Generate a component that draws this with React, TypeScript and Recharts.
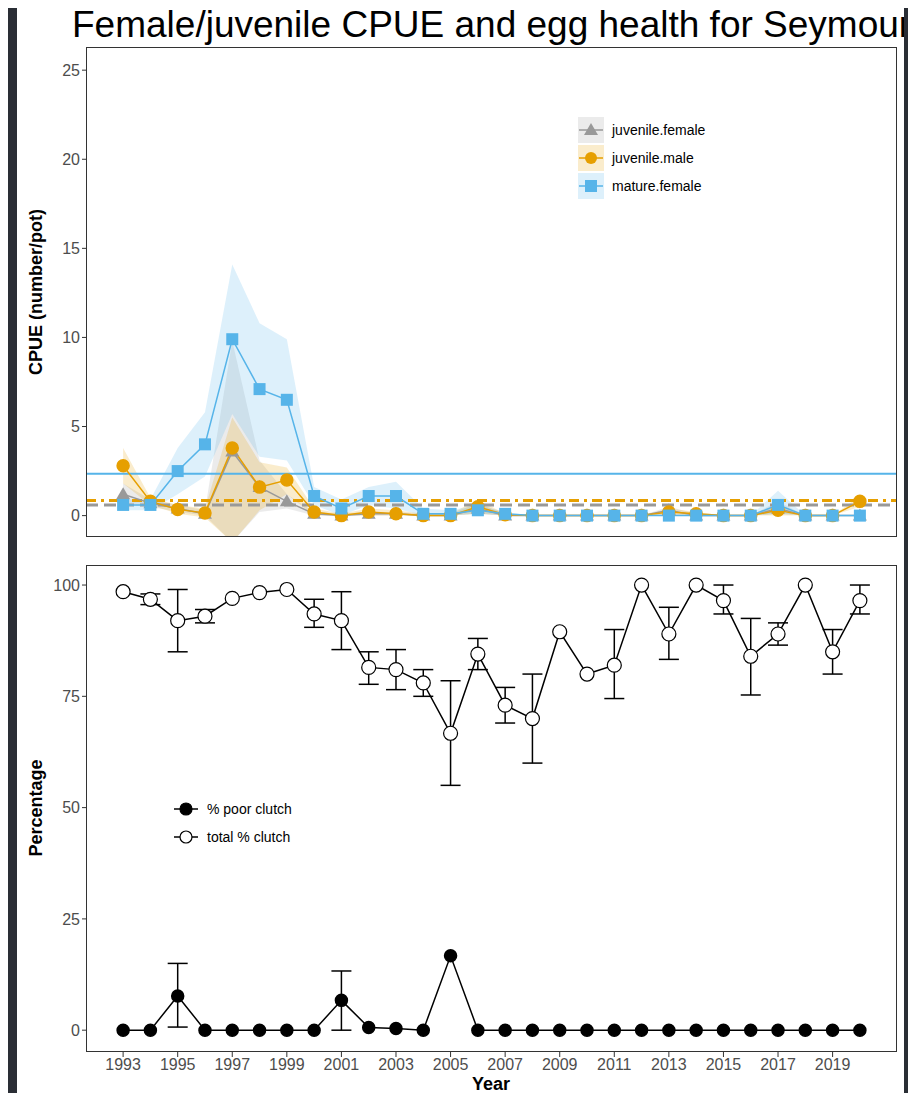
import React from "react";
import { ComposedChart, Line, Area, XAxis, YAxis, ReferenceLine, ErrorBar } from "recharts";

const years = [1993, 1994, 1995, 1996, 1997, 1998, 1999, 2000, 2001, 2002, 2003, 2004, 2005, 2006, 2007, 2008, 2009, 2010, 2011, 2012, 2013, 2014, 2015, 2016, 2017, 2018, 2019, 2020];

const matureFemale = [0.6, 0.6, 2.5, 4.0, 9.9, 7.1, 6.5, 1.1, 0.4, 1.1, 1.1, 0.1, 0.1, 0.3, 0.1, 0, 0, 0, 0, 0, 0, 0, 0, 0, 0.6, 0, 0, 0];
const matureFemaleLo = [0.3, 0.3, 1.2, 2.2, 5.7, 3.3, 3.1, 0.6, 0, 0.6, 0.4, 0, 0, 0.1, 0, 0, 0, 0, 0, 0, 0, 0, 0, 0, 0.1, 0, 0, 0];
const matureFemaleHi = [0.9, 0.9, 3.8, 5.8, 14.1, 10.8, 9.9, 1.6, 0.9, 1.6, 1.9, 0.4, 0.3, 0.6, 0.2, 0, 0, 0, 0, 0, 0.1, 0, 0, 0, 1.4, 0, 0, 0];
const juvMale = [2.8, 0.8, 0.35, 0.15, 3.8, 1.6, 2.0, 0.2, 0, 0.2, 0.1, 0, 0, 0.5, 0.05, 0, 0, 0, 0, 0, 0.2, 0.1, 0, 0, 0.3, 0, 0, 0.8];
const juvMaleLo = [1.8, 0.6, 0.1, -0.1, -1.5, 0.3, 1.2, 0, 0, 0, 0, 0, 0, 0.1, 0, 0, 0, 0, 0, 0, 0, 0, 0, 0, 0, 0, 0, 0.5];
const juvMaleHi = [3.8, 1.0, 0.6, 0.4, 5.5, 3.0, 2.7, 0.4, 0.1, 0.4, 0.3, 0.1, 0.1, 0.9, 0.1, 0, 0, 0, 0, 0, 0.4, 0.2, 0, 0, 0.6, 0, 0, 1.1];
const juvFemale = [1.2, 0.7, 0.4, 0.1, 3.6, 1.6, 0.8, 0.1, 0, 0.1, 0.1, 0, 0, 0.4, 0, 0, 0, 0, 0, 0, 0.3, 0, 0, 0, 0.4, 0, 0, 0];
const juvFemaleLo = [0.6, 0.5, 0.2, 0, -1.5, 0.2, 0.4, 0, 0, 0, 0, 0, 0, 0.1, 0, 0, 0, 0, 0, 0, 0.1, 0, 0, 0, 0.1, 0, 0, 0];
const juvFemaleHi = [1.8, 0.9, 0.6, 0.3, 9.8, 3.1, 1.2, 0.2, 0.1, 0.2, 0.2, 0.1, 0.1, 0.7, 0.1, 0, 0, 0, 0, 0, 0.5, 0.1, 0, 0, 0.8, 0, 0, 0];

const meanMature = 2.35;
const meanJuvMale = 0.85;
const meanJuvFemale = 0.6;

const totalClutch = [98.5, 96.8, 92, 93, 97, 98.3, 99, 93.5, 92, 81.5, 81, 78, 66.7, 84.5, 73, 70, 89.5, 80, 82, 100, 89, 100, 96.5, 84, 89, 100, 85, 96.5];
const totalLo = [98.5, 95.6, 85, 91.5, 97, 98.3, 99, 90.5, 85.5, 77.7, 76.5, 75, 55, 81, 69, 60, 89.5, 80, 74.5, 100, 83.3, 100, 93.5, 75.3, 86.5, 100, 80, 93.5];
const totalHi = [98.5, 98, 99, 94.5, 97, 98.3, 99, 96.8, 98.5, 85, 85.5, 81, 78.5, 88, 77, 80, 89.5, 80, 90, 100, 95, 100, 100, 92.5, 91.5, 100, 90, 100];
const poorClutch = [0, 0, 7.7, 0, 0, 0, 0, 0, 6.7, 0.6, 0.4, 0, 16.7, 0, 0, 0, 0, 0, 0, 0, 0, 0, 0, 0, 0, 0, 0, 0];
const poorLo = [0, 0, 0.7, 0, 0, 0, 0, 0, 0, 0.6, 0.4, 0, 16.7, 0, 0, 0, 0, 0, 0, 0, 0, 0, 0, 0, 0, 0, 0, 0];
const poorHi = [0, 0, 15, 0, 0, 0, 0, 0, 13.3, 0.6, 0.4, 0, 16.7, 0, 0, 0, 0, 0, 0, 0, 0, 0, 0, 0, 0, 0, 0, 0];

const cpueTicks = [0, 5, 10, 15, 20, 25];
const pctTicks = [0, 25, 50, 75, 100];
const yearTicks = [1993, 1995, 1997, 1999, 2001, 2003, 2005, 2007, 2009, 2011, 2013, 2015, 2017, 2019];

const BLUE = "#56B4E9";
const ORANGE = "#E69F00";
const GREY = "#999999";
const FONT = "'Liberation Sans', Arial, sans-serif";

const cpueData = years.map((year, i) => ({
  year,
  mf: matureFemale[i],
  jm: juvMale[i],
  jf: juvFemale[i],
  mfBand: [matureFemaleLo[i], matureFemaleHi[i]],
  jmBand: [juvMaleLo[i], juvMaleHi[i]],
  jfBand: [juvFemaleLo[i], juvFemaleHi[i]],
}));

// skip bars with no spread so no stray caps are drawn
const errOf = (v: number, lo: number, hi: number) => (hi - lo > 0 ? [v - lo, hi - v] : null);

const clutchData = years.map((year, i) => ({
  year,
  total: totalClutch[i],
  totalErr: errOf(totalClutch[i], totalLo[i], totalHi[i]),
  poor: poorClutch[i],
  poorErr: errOf(poorClutch[i], poorLo[i], poorHi[i]),
}));

const xDomain = [1991.64, 2021.36];
const tickStyle = { fill: "#4d4d4d", fontSize: 16, fontFamily: FONT };

const Square = (props: any) => {
  const { cx, cy } = props;
  if (cx == null || cy == null) return null;
  return <rect key={`s${cx}`} x={cx - 6} y={cy - 6} width={12} height={12} fill={BLUE} />;
};
const Tri = (props: any) => {
  const { cx, cy } = props;
  if (cx == null || cy == null) return null;
  return <polygon key={`t${cx}`} points={`${cx},${cy - 7} ${cx - 7},${cy + 5} ${cx + 7},${cy + 5}`} fill={GREY} />;
};

const legendTop = [
  { label: "juvenile.female", color: GREY, bg: "rgba(153,153,153,0.2)", shape: "tri" },
  { label: "juvenile.male", color: ORANGE, bg: "rgba(230,159,0,0.2)", shape: "circle" },
  { label: "mature.female", color: BLUE, bg: "rgba(86,180,233,0.2)", shape: "square" },
];

const App: React.FC = () => {
  return (
    <div style={{ position: "relative", width: 916, height: 1101, margin: -8, background: "#2a2e35", fontFamily: FONT, overflow: "hidden" }}>
      <div style={{ position: "absolute", left: 17, top: 0, width: 887, height: 1101, background: "#fff" }} />
      <div style={{ position: "absolute", left: 72, top: 4, fontSize: 37, whiteSpace: "nowrap", color: "#000", width: 832, overflow: "hidden" }}>
        Female/juvenile CPUE and egg health for Seymour
      </div>

      {/* CPUE panel */}
      <div style={{ position: "absolute", left: 0, top: 0 }}>
        <ComposedChart width={916} height={560} data={cpueData} margin={{ top: 47, right: 19, left: 46, bottom: 13 }}>
          <XAxis dataKey="year" type="number" domain={xDomain} ticks={yearTicks} tick={false} tickSize={5} stroke="#333" axisLine={false} height={10} allowDataOverflow />
          <YAxis type="number" domain={[-1.2, 26.3]} ticks={cpueTicks} tick={tickStyle} tickSize={4} stroke="#333" axisLine={false} width={40} allowDataOverflow />
          <Area dataKey="jfBand" fill={GREY} fillOpacity={0.2} stroke="none" isAnimationActive={false} />
          <Area dataKey="jmBand" fill={ORANGE} fillOpacity={0.2} stroke="none" isAnimationActive={false} />
          <Area dataKey="mfBand" fill={BLUE} fillOpacity={0.2} stroke="none" isAnimationActive={false} />
          <ReferenceLine y={meanMature} stroke={BLUE} strokeWidth={2} />
          <ReferenceLine y={meanJuvMale} stroke={ORANGE} strokeWidth={3} strokeDasharray="10 5 3 5" />
          <ReferenceLine y={meanJuvFemale} stroke={GREY} strokeWidth={3} strokeDasharray="12 6" />
          <Line dataKey="jf" stroke={GREY} strokeWidth={1.5} dot={<Tri />} isAnimationActive={false} />
          <Line dataKey="jm" stroke={ORANGE} strokeWidth={1.5} dot={{ r: 6, fill: ORANGE, stroke: ORANGE }} isAnimationActive={false} />
          <Line dataKey="mf" stroke={BLUE} strokeWidth={1.5} dot={<Square />} isAnimationActive={false} />
        </ComposedChart>
      </div>
      <div style={{ position: "absolute", left: 86, top: 47, width: 811, height: 490, border: "1px solid #333", boxSizing: "border-box", pointerEvents: "none" }} />
      <div style={{ position: "absolute", left: 36, top: 292, transform: "translate(-50%,-50%) rotate(-90deg)", fontSize: 18, fontWeight: "bold", whiteSpace: "nowrap" }}>
        CPUE (number/pot)
      </div>
      {legendTop.map((d, i) => (
        <div key={d.label} style={{ position: "absolute", left: 578, top: 117 + i * 28, display: "flex", alignItems: "center" }}>
          <svg width={26} height={26}>
            <rect x={0} y={0} width={26} height={26} fill={d.bg} />
            <line x1={1} y1={13} x2={25} y2={13} stroke={d.color} strokeWidth={1.5} />
            {d.shape === "tri" && <polygon points="13,6 6,18 20,18" fill={d.color} />}
            {d.shape === "circle" && <circle cx={13} cy={13} r={6} fill={d.color} />}
            {d.shape === "square" && <rect x={7} y={7} width={12} height={12} fill={d.color} />}
          </svg>
          <span style={{ marginLeft: 8, fontSize: 14 }}>{d.label}</span>
        </div>
      ))}

      {/* clutch panel */}
      <div style={{ position: "absolute", left: 0, top: 560 }}>
        <ComposedChart width={916} height={541} data={clutchData} margin={{ top: 5, right: 19, left: 46, bottom: 19 }}>
          <XAxis dataKey="year" type="number" domain={xDomain} ticks={yearTicks} tick={tickStyle} tickSize={5} stroke="#333" axisLine={false} height={30} allowDataOverflow />
          <YAxis type="number" domain={[-4.9, 104.5]} ticks={pctTicks} tick={tickStyle} tickSize={4} stroke="#333" axisLine={false} width={40} allowDataOverflow />
          <Line dataKey="poor" stroke="#000" strokeWidth={1.5} dot={{ r: 6, fill: "#000", stroke: "#000" }} isAnimationActive={false}>
            <ErrorBar dataKey="poorErr" direction="y" width={10} stroke="#000" strokeWidth={1.5} />
          </Line>
          <Line dataKey="total" stroke="#000" strokeWidth={1.5} dot={{ r: 7, fill: "#fff", stroke: "#000", strokeWidth: 1.2 }} isAnimationActive={false}>
            <ErrorBar dataKey="totalErr" direction="y" width={10} stroke="#000" strokeWidth={1.5} />
          </Line>
        </ComposedChart>
      </div>
      <div style={{ position: "absolute", left: 86, top: 565, width: 811, height: 487, border: "1px solid #333", boxSizing: "border-box", pointerEvents: "none" }} />
      <div style={{ position: "absolute", left: 36, top: 808, transform: "translate(-50%,-50%) rotate(-90deg)", fontSize: 18, fontWeight: "bold", whiteSpace: "nowrap" }}>
        Percentage
      </div>
      <div style={{ position: "absolute", left: 491, top: 1084, transform: "translate(-50%,-50%)", fontSize: 18, fontWeight: "bold" }}>Year</div>
      {[{ label: "% poor clutch", fill: "#000" }, { label: "total % clutch", fill: "#fff" }].map((d, i) => (
        <div key={d.label} style={{ position: "absolute", left: 173, top: 796 + i * 28, display: "flex", alignItems: "center" }}>
          <svg width={26} height={26}>
            <line x1={1} y1={13} x2={25} y2={13} stroke="#000" strokeWidth={1.5} />
            <circle cx={13} cy={13} r={6} fill={d.fill} stroke="#000" strokeWidth={1.2} />
          </svg>
          <span style={{ marginLeft: 8, fontSize: 14 }}>{d.label}</span>
        </div>
      ))}
    </div>
  );
};

export default App;
